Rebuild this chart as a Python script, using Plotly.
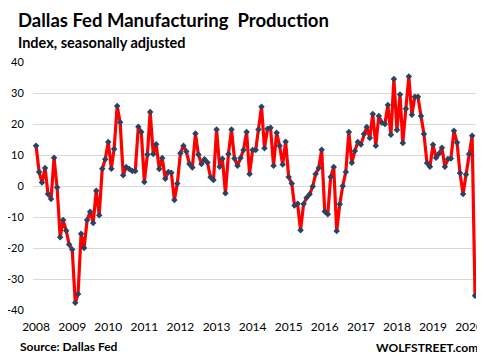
import pandas as pd
import plotly.graph_objects as go

# Monthly index values, Jan 2008 - Mar 2020
values = [
    13.0, 4.5, 1.1, 5.8, -2.6, -4.2, 9.1, -0.5, -16.5, -11.0, -14.4, -18.9,   # 2008
    -20.5, -37.7, -34.8, -15.4, -20.0, -11.0, -8.3, -11.9, -1.5, -9.4, 5.6, 8.6,  # 2009
    14.2, 5.6, 11.9, 25.8, 20.6, 3.5, 6.1, 5.5, 4.8, 4.8, 19.1, 17.4,       # 2010
    1.3, 10.2, 23.9, 10.3, 13.5, 5.5, 9.0, 2.3, 4.5, 4.3, -4.5, 0.8,        # 2011
    10.6, 13.0, 11.1, 7.1, 6.0, 16.9, 10.2, 7.1, 8.6, 7.6, 2.8, 1.9,        # 2012
    18.2, 6.2, 8.8, -2.3, 10.3, 18.2, 8.9, 6.5, 9.0, 11.6, 17.4, 3.9,       # 2013
    11.6, 11.6, 18.2, 25.6, 12.2, 18.5, 18.8, 6.5, 17.2, 13.0, 6.9, 14.3,   # 2014
    2.9, 0.8, -6.3, -5.7, -14.3, -5.8, -3.8, -2.7, -0.2, 3.9, 5.8, 11.7,    # 2015
    -8.2, -9.1, 2.9, 6.1, -14.5, -5.9, 0.0, 4.5, 17.4, 7.5, 11.3, 14.2,     # 2016
    13.4, 16.8, 19.0, 15.5, 23.2, 13.0, 22.6, 20.4, 20.0, 26.1, 16.5, 34.5, # 2017
    18.1, 29.5, 13.9, 24.9, 35.3, 23.0, 28.8, 28.8, 22.6, 16.8, 7.4, 6.2,   # 2018
    13.3, 9.1, 10.4, 12.3, 6.2, 8.7, 8.9, 17.8, 14.0, 4.2, -2.6, 3.7,       # 2019
    10.3, 16.2, -35.4,                                                       # 2020
]
dates = pd.date_range("2008-01-01", periods=len(values), freq="MS")
year_ticks = [f"{y}-01-01" for y in range(2008, 2021)]
year_labels = [str(y) for y in range(2008, 2021)]
y_ticks = [-40, -30, -20, -10, 0, 10, 20, 30, 40]
y_labels = ["-40", "-30", "-20", "-10", "0", "10", "20", "30", "40"]

# The page body adds an 8px margin, so the figure is drawn 8px smaller
OFF = 8
W, H = 485 - OFF, 358 - OFF
L, T = 33 - OFF, 62 - OFF
R = W - (476 - OFF)
B = H - (310 - OFF)
PW, PH = W - L - R, H - T - B


def px(x):
    return (x - OFF - L) / PW


def py(y):
    return (H - B - (y - OFF)) / PH


fig = go.Figure()
fig.add_trace(go.Scatter(
    x=dates, y=values, mode="lines+markers",
    line=dict(color="#FF0000", width=3.2),
    marker=dict(symbol="diamond", size=5, color="#2B4262"),
    hoverinfo="x+y", showlegend=False,
))

fig.update_layout(
    width=W, height=H,
    margin=dict(l=L, r=R, t=T, b=B, autoexpand=False),
    paper_bgcolor="white", plot_bgcolor="white",
    font=dict(family="Lato, 'Open Sans', sans-serif", size=12, color="#000000"),
    xaxis=dict(
        type="date", range=["2007-12-01", "2020-03-11"],
        tickvals=year_ticks, ticktext=year_labels,
        showgrid=False, zeroline=False, showline=False, automargin=False,
        ticks="outside", ticklen=6, tickcolor="rgba(0,0,0,0)",
        tickfont=dict(size=12, color="#000000"),
    ),
    yaxis=dict(
        range=[-40, 40], tickvals=y_ticks, ticktext=y_labels,
        showgrid=True, gridcolor="#D9D9D9", gridwidth=1,
        zeroline=False, showline=False, automargin=False,
        ticks="outside", ticklen=6, tickcolor="rgba(0,0,0,0)",
        tickfont=dict(size=11, color="#000000"),
    ),
)

fig.add_annotation(text="<b>Dallas Fed Manufacturing  Production</b>",
                   xref="paper", yref="paper", x=px(17), y=py(8.5),
                   xanchor="left", yanchor="top", borderpad=0,
                   showarrow=False, font=dict(size=18.5))
fig.add_annotation(text="<b>Index, seasonally adjusted</b>",
                   xref="paper", yref="paper", x=px(17), y=py(32.5),
                   xanchor="left", yanchor="top", borderpad=0,
                   showarrow=False, font=dict(size=14.5))
fig.add_annotation(text="<b>Source: Dallas Fed</b>", xref="paper", yref="paper",
                   x=px(18), y=py(346), xanchor="left", yanchor="middle",
                   showarrow=False, font=dict(size=12))
fig.add_annotation(text="<b>WOLFSTREET.com</b>", xref="paper", yref="paper",
                   x=px(480), y=py(347), xanchor="right", yanchor="middle",
                   showarrow=False, font=dict(size=12))

fig.write_html("out.html")
